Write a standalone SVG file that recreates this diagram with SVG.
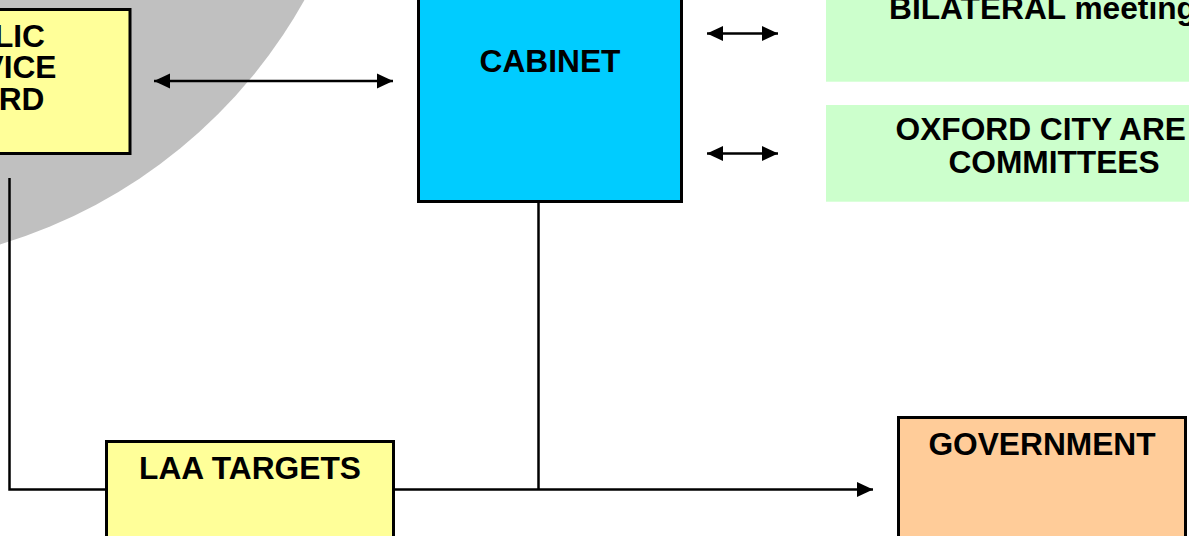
<svg xmlns="http://www.w3.org/2000/svg" width="1189" height="536" viewBox="0 0 1189 536">
<style>
.t{font-family:"Liberation Sans",Arial,sans-serif;font-weight:bold;font-size:31.7px;fill:#000}
.box{stroke:#000;stroke-width:3}
.ln{stroke:#000;stroke-width:2.5;fill:none}
</style>
<defs>
<marker id="ah" viewBox="0 0 16 16" refX="16" refY="8" markerWidth="16" markerHeight="16" markerUnits="userSpaceOnUse" orient="auto-start-reverse">
<path d="M0,0.5 L16,8 L0,15.5 z" fill="#000"/>
</marker>
</defs>
<rect width="1189" height="536" fill="#fff"/>
<circle cx="-149.5" cy="-253.6" r="520" fill="#C0C0C0"/>
<g id="connectors">
<line class="ln" x1="154" y1="81" x2="393" y2="81" marker-start="url(#ah)" marker-end="url(#ah)"/>
<line class="ln" x1="707" y1="33.5" x2="778" y2="33.5" marker-start="url(#ah)" marker-end="url(#ah)"/>
<line class="ln" x1="707" y1="153.5" x2="778" y2="153.5" marker-start="url(#ah)" marker-end="url(#ah)"/>
<polyline class="ln" points="9.5,178 9.5,489.5 105,489.5"/>
<line class="ln" x1="538.5" y1="202" x2="538.5" y2="489.5"/>
<line class="ln" x1="395" y1="489.5" x2="873" y2="489.5" marker-end="url(#ah)"/>
</g>
<g id="psb">
<rect class="box" x="-10" y="9.5" width="140" height="144" fill="#FFFF99"/>
<text class="t" x="45" y="46.7" text-anchor="end">LIC</text>
<text class="t" x="56.5" y="78.3" text-anchor="end">VICE</text>
<text class="t" x="44.5" y="110" text-anchor="end">RD</text>
</g>
<g id="cabinet">
<rect class="box" x="418.5" y="-5" width="263" height="206.5" fill="#00CCFF"/>
<text class="t" x="550" y="71.5" text-anchor="middle">CABINET</text>
</g>
<g id="bilateral">
<rect x="826" y="-5" width="370" height="86.7" fill="#CCFFCC"/>
<text class="t" x="889" y="19">BILATERAL meeting</text>
</g>
<g id="oxford">
<rect x="826" y="105" width="370" height="96.7" fill="#CCFFCC"/>
<text class="t" x="895.5" y="139.5">OXFORD CITY ARE</text>
<text class="t" x="1054" y="172.7" text-anchor="middle">COMMITTEES</text>
</g>
<g id="laa">
<rect class="box" x="106.5" y="441.5" width="287" height="110" fill="#FFFF99"/>
<text class="t" x="250" y="479.3" text-anchor="middle">LAA TARGETS</text>
</g>
<g id="government">
<rect class="box" x="898.5" y="417.5" width="287" height="130" fill="#FFCC99"/>
<text class="t" x="1042" y="455" text-anchor="middle">GOVERNMENT</text>
</g>
</svg>
